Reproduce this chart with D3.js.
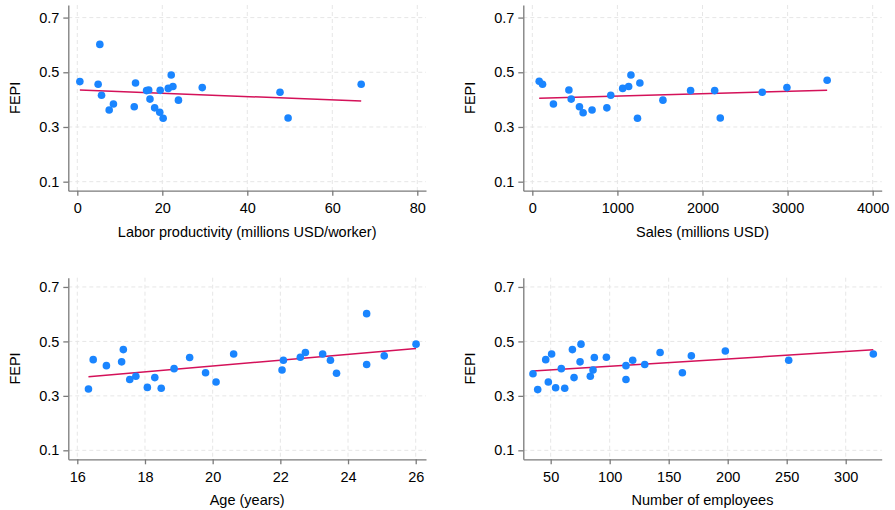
<!DOCTYPE html>
<html>
<head>
<meta charset="utf-8">
<script src="https://cdn.jsdelivr.net/npm/d3@7"></script>
<style>
  body { margin: 0; background: #fff; }
  text { font-family: "Liberation Sans", Arial, sans-serif; fill: #000; }
</style>
</head>
<body>
<svg id="chart" width="895" height="510"></svg>
<script>
// values
const yTicks = [0.1, 0.3, 0.5, 0.7];

const labProdX = [0.6, 5.3, 4.9, 5.7, 7.5, 8.5, 13.4, 13.7, 16.3, 16.8, 17.1, 18.2, 19.5, 19.4, 20.2, 21.4, 22.1, 22.5, 23.8, 29.4, 47.7, 49.6, 66.8];
const labProdY = [0.466, 0.602, 0.456, 0.416, 0.362, 0.384, 0.374, 0.461, 0.433, 0.435, 0.402, 0.370, 0.434, 0.354, 0.332, 0.441, 0.490, 0.448, 0.398, 0.444, 0.427, 0.333, 0.456];
const labProdTicks = [0, 20, 40, 60, 80];
const labProdFit = [0.435, 0.395];

const salesX = [81, 120, 248, 430, 457, 554, 597, 702, 876, 922, 1062, 1132, 1159, 1236, 1264, 1535, 1860, 2143, 2209, 2702, 2992, 3465];
const salesY = [0.467, 0.456, 0.384, 0.435, 0.402, 0.374, 0.352, 0.362, 0.370, 0.416, 0.441, 0.448, 0.490, 0.332, 0.461, 0.398, 0.433, 0.433, 0.333, 0.427, 0.444, 0.471];
const salesTicks = [0, 1000, 2000, 3000, 4000];
const salesFit = [0.405, 0.434];

const ageX = [16.33, 16.47, 16.86, 17.31, 17.36, 17.55, 17.73, 18.07, 18.29, 18.48, 18.86, 19.32, 19.79, 20.10, 20.62, 22.05, 22.09, 22.59, 22.74, 23.25, 23.48, 23.66, 24.55, 24.55, 25.07, 26.01];
const ageY = [0.325, 0.433, 0.411, 0.425, 0.470, 0.360, 0.372, 0.331, 0.367, 0.328, 0.400, 0.441, 0.385, 0.351, 0.454, 0.395, 0.431, 0.442, 0.459, 0.454, 0.431, 0.383, 0.602, 0.415, 0.447, 0.490];
const ageTicks = [16, 18, 20, 22, 24, 26];
const ageFit = [0.370, 0.474];

const empX = [35.0, 39.0, 45.8, 48.0, 50.8, 54.2, 59.0, 61.9, 68.4, 69.8, 74.9, 75.7, 83.6, 85.9, 87.0, 97.2, 113.8, 113.8, 119.5, 129.7, 142.7, 161.6, 169.2, 198.0, 251.7, 323.4];
const empY = [0.381, 0.323, 0.433, 0.351, 0.454, 0.330, 0.400, 0.328, 0.470, 0.367, 0.425, 0.490, 0.372, 0.395, 0.441, 0.442, 0.411, 0.360, 0.431, 0.415, 0.459, 0.385, 0.447, 0.465, 0.431, 0.454];
const empTicks = [50, 100, 150, 200, 250, 300];
const empFit = [0.391, 0.469];

const yTitle = 'FEPI';

const dotColor = '#1a85ff';
const fitColor = '#d41159';
const gridColor = '#e6e6e6';
const axisColor = '#7a7a7a';

const panels = [
  { xs: labProdX, ys: labProdY, ticks: labProdTicks, fit: labProdFit, title: 'Labor productivity (millions USD/worker)',
    xDomain: [-2.12, 82.05], yDomain: [0.067, 0.746], left: 68.3, right: 426, top: 5, bottom: 190.7 },
  { xs: salesX, ys: salesY, ticks: salesTicks, fit: salesFit, title: 'Sales (millions USD)',
    xDomain: [-106, 4106], yDomain: [0.067, 0.746], left: 523.3, right: 881.7, top: 5, bottom: 190.7 },
  { xs: ageX, ys: ageY, ticks: ageTicks, fit: ageFit, title: 'Age (years)',
    xDomain: [15.734, 26.304], yDomain: [0.067, 0.734], left: 68.3, right: 426, top: 277.7, bottom: 459.3 },
  { xs: empX, ys: empY, ticks: empTicks, fit: empFit, title: 'Number of employees',
    xDomain: [26.8, 330.5], yDomain: [0.067, 0.734], left: 523.3, right: 881.7, top: 277.7, bottom: 459.3 }
];

const svg = d3.select('#chart');
const fontSize = 14.5;

panels.forEach(p => {
  const x = d3.scaleLinear().domain(p.xDomain).range([p.left, p.right]);
  const y = d3.scaleLinear().domain(p.yDomain).range([p.bottom, p.top]);
  const g = svg.append('g');

  // dashed grid
  g.selectAll('.hgrid')
    .data(yTicks)
    .enter().append('line')
    .attr('x1', p.left).attr('x2', p.right)
    .attr('y1', d => y(d)).attr('y2', d => y(d))
    .attr('stroke', gridColor).attr('stroke-width', 1)
    .attr('stroke-dasharray', '4,3');

  g.selectAll('.vgrid')
    .data(p.ticks)
    .enter().append('line')
    .attr('x1', d => x(d)).attr('x2', d => x(d))
    .attr('y1', p.top).attr('y2', p.bottom)
    .attr('stroke', gridColor).attr('stroke-width', 1)
    .attr('stroke-dasharray', '4,3');

  // axes
  const xAxis = d3.axisBottom(x).tickValues(p.ticks).tickSize(5).tickSizeOuter(0).tickPadding(7.5)
    .tickFormat(d3.format('d'));
  const yAxis = d3.axisLeft(y).tickValues(yTicks).tickSize(5).tickSizeOuter(0).tickPadding(4)
    .tickFormat(d3.format('.1f'));

  const gx = g.append('g').attr('transform', `translate(0,${p.bottom})`).call(xAxis);
  const gy = g.append('g').attr('transform', `translate(${p.left},0)`).call(yAxis);

  [gx, gy].forEach(a => {
    a.select('.domain').attr('stroke', axisColor).attr('stroke-width', 1.3);
    a.selectAll('.tick line').attr('stroke', axisColor).attr('stroke-width', 1.3);
    a.selectAll('.tick text')
      .attr('font-family', '"Liberation Sans", Arial, sans-serif')
      .attr('font-size', fontSize).attr('fill', '#000');
  });

  // fitted line
  const ext = d3.extent(p.xs);
  g.append('line')
    .attr('x1', x(ext[0])).attr('y1', y(p.fit[0]))
    .attr('x2', x(ext[1])).attr('y2', y(p.fit[1]))
    .attr('stroke', fitColor).attr('stroke-width', 1.5);

  // points
  g.selectAll('.dot')
    .data(p.xs.map((d, i) => [d, p.ys[i]]))
    .enter().append('circle')
    .attr('cx', d => x(d[0]))
    .attr('cy', d => y(d[1]))
    .attr('r', 3.8)
    .attr('fill', dotColor);

  // titles
  g.append('text')
    .attr('x', (p.left + p.right) / 2)
    .attr('y', p.bottom + 46)
    .attr('text-anchor', 'middle')
    .attr('font-size', fontSize)
    .text(p.title);

  g.append('text')
    .attr('transform', `translate(${p.left - 48},${(p.top + p.bottom) / 2}) rotate(-90)`)
    .attr('text-anchor', 'middle')
    .attr('font-size', fontSize)
    .text(yTitle);
});
</script>
</body>
</html>
